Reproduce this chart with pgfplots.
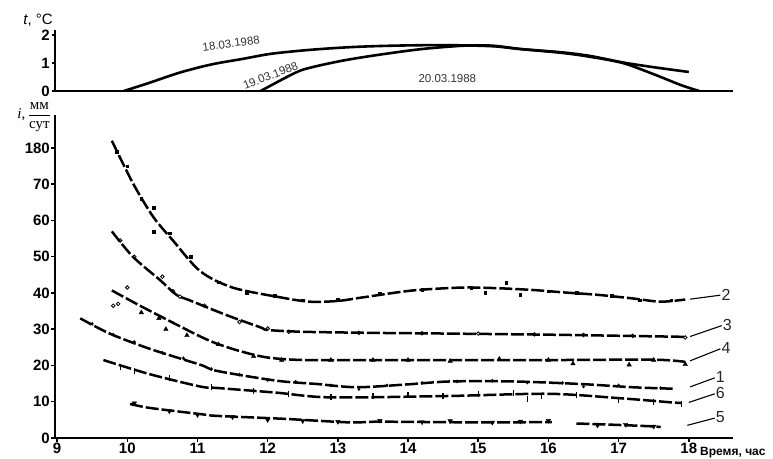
\documentclass[border=0pt]{standalone}
\usepackage{fontspec}
\setmainfont{Liberation Sans}
\newfontfamily\serifcyr{Liberation Serif}
\usepackage{pgfplots}
\pgfplotsset{compat=1.18}

\pgfplotsset{
  base/.style={scale only axis, width=678pt, xmin=8.97, xmax=18.63,
    axis lines=left, axis line style={line width=2.2pt, -},
    tick style={line width=1.5pt, black}, tick align=outside,
    major tick length=3.5pt,
    tick label style={font=\bfseries\fontsize{15}{15}\selectfont, inner sep=1.5pt},
    xticklabel style={yshift=0.5pt},
    /pgf/number format/assume math mode=true},
  crv/.style={black, line width=2.5pt, dash pattern=on 13pt off 3pt,
    smooth, tension=0.5, no marks, unbounded coords=jump},
  lead/.style={black, line width=1.1pt, no marks},
  mk/.style={only marks, black},
}
\tikzset{num/.style={anchor=west, inner sep=1pt, text=black!85, font=\fontsize{16}{16}\selectfont}}

\begin{document}
\begin{tikzpicture}
\path[use as bounding box] (-55pt,-20pt) rectangle (718pt,438pt);

% top panel: air temperature
\begin{axis}[base, name=top, at={(0pt,347pt)}, anchor=south west, height=61pt,
    ymin=0, ymax=2.18, ytick={0,1,2}, xtick=\empty]
\addplot[black, line width=2.6pt, smooth, tension=0.5] coordinates {
  (9.95,0) (10.3,0.28) (10.75,0.66) (11.2,0.95) (11.65,1.15) (12.05,1.33)
  (12.6,1.47) (13.2,1.57) (13.8,1.62) (14.5,1.64) (15.2,1.6) (15.6,1.5)
  (16.2,1.38) (16.6,1.25) (17.06,1.02) (17.5,0.85) (18.0,0.68)
};
\addplot[black, line width=2.6pt, smooth, tension=0.5] coordinates {
  (11.9,0) (12.4,0.66) (12.65,0.86) (13.1,1.1) (13.6,1.3) (14.2,1.5)
  (14.8,1.62) (15.2,1.62) (15.6,1.5) (16.2,1.36) (16.6,1.22) (17.06,1.0)
  (17.5,0.6) (17.9,0.2) (18.15,0)
};
\node[rotate=8, inner sep=0pt, text=black!80,
  font=\fontsize{11.5}{11.5}\selectfont] at (axis cs:11.48,1.7) {18.03.1988};
\node[rotate=21, fill=white, inner sep=0.5pt, text=black!80,
  font=\fontsize{11.5}{11.5}\selectfont] at (axis cs:12.04,0.55) {19.03.1988};
\node[text=black!80, inner sep=0pt,
  font=\fontsize{11.5}{11.5}\selectfont] at (axis cs:14.56,0.46) {20.03.1988};
\end{axis}

% bottom panel: infiltration rate
\begin{axis}[base, name=bot, at={(0pt,0pt)}, anchor=south west, height=323pt,
    ymin=0, ymax=89.1, xtick={9,...,18}, ytick={0,10,...,80},
    yticklabels={0,10,20,30,40,50,60,70,180}]
% curve 2
\addplot[crv] coordinates {
  (9.78,82) (10.08,70.3) (10.37,61) (10.65,54.5) (11.04,46) (11.5,41.5)
  (12.18,38.8) (12.6,37.6) (13.0,37.8) (13.36,38.8) (14.07,40.7)
  (14.78,41.5) (15.3,41.3) (15.8,40.8) (16.26,40.1) (16.7,39.5)
  (17.2,38.5) (17.6,37.6) (17.95,38.2)
};
\addplot[mk, mark=square*, mark size=1.3pt] coordinates {
  (9.85,79) (10.0,75) (10.2,66) (10.38,63.5) (10.38,56.9) (10.6,56.5)
  (10.9,50) (11.3,43) (11.7,40) (12.1,39.2) (12.5,38) (13.0,38.2)
  (13.6,39.8) (14.2,40.9) (14.9,41.5) (15.1,40) (15.4,42.8) (15.6,39.5)
  (16.0,40.5) (16.4,40) (16.9,39.2) (17.3,38) (17.75,38)
};
\addplot[lead] coordinates {(18.02,38.3) (18.45,39.4)};
% curve 3
\addplot[crv] coordinates {
  (9.78,57) (10.08,50) (10.47,43.5) (10.7,39.5) (10.9,37.9) (11.4,34)
  (11.9,30.5) (12.0,29.8) (12.5,29.3) (13.5,29) (14.6,28.8) (16,28.5)
  (17,28.2) (17.95,27.9)
};
\addplot[mk, mark=o, mark size=1.8pt, mark options={fill=white, line width=0.8pt}] coordinates {
  (9.8,36.5) (9.87,37) (9.9,54.5) (10.0,41.5) (10.1,50) (10.5,44.5)
  (10.65,40.5) (10.75,39) (11.1,36.5) (11.6,32) (12.0,30.2) (12.3,29.3)
  (13.3,29) (14.2,28.9) (15.0,28.8) (15.8,28.6) (16.5,28.4) (17.2,28.2)
  (17.95,27.7)
};
\addplot[lead] coordinates {(18.02,28) (18.47,31)};
% curve 4
\addplot[crv] coordinates {
  (9.78,40.7) (10.18,36.5) (10.65,31.8) (11.04,28) (11.28,26) (11.6,24)
  (12.0,22.2) (12.56,21.5) (14,21.5) (16,21.5) (17.5,21.6) (17.95,21.0)
};
\addplot[mk, mark=triangle*, mark size=2.6pt] coordinates {
  (10.2,34.6) (10.45,33) (10.55,30) (10.85,28.3) (11.3,25.8) (11.8,22.5)
  (12.2,21.5) (12.9,21.5) (13.5,21.5) (14.0,21.5) (14.6,21.2) (15.3,21.8)
  (16.0,21.5) (16.35,20.5) (17.15,20.2) (17.5,21.5) (17.95,20.3)
};
\addplot[lead] coordinates {(18.02,21.3) (18.45,24.6)};
% curve 1
\addplot[crv] coordinates {
  (9.33,33) (9.75,28.8) (10.32,24.6) (11.04,20.2) (11.28,18.5)
  (12.13,15.8) (12.7,14.9) (13.27,14.0) (14.0,14.8) (14.6,15.6)
  (15.5,15.6) (16.45,14.9) (17.2,14.0) (17.77,13.6)
};
\addplot[mk, mark=diamond*, mark size=1.6pt] coordinates {
  (9.5,31.5) (9.8,28.5) (10.1,26.5) (10.5,23.5) (10.8,22) (11.2,19)
  (11.6,17.5) (12.0,16) (12.4,15.5) (12.9,14.5) (13.3,13.5) (13.7,14.5)
  (14.2,15.2) (14.7,15.6) (15.2,15.8) (15.7,15.3) (16.2,15.2) (16.5,14.2)
  (17.0,14.5) (17.6,13.8)
};
\addplot[lead] coordinates {(18.02,14.1) (18.37,16.6)};
% curve 6
\addplot[crv] coordinates {
  (9.66,21.5) (10.32,17.6) (11.04,14.2) (11.28,13.8) (12.13,12.5)
  (12.9,11.2) (14.6,11.6) (16.0,12.2) (17.0,11.0) (17.77,9.8) (17.9,9.7)
};
\addplot[mk, mark=|, mark size=3pt, mark options={line width=1.4pt}] coordinates {
  (9.9,19.5) (10.1,18.5) (10.6,16.5) (11.2,14) (11.8,13) (12.3,12)
  (12.9,11.4) (13.5,11.6) (14.0,11.8) (14.5,11.5) (15.0,12.2) (15.5,12.3)
  (15.7,10.7) (15.9,11.5) (16.4,11.8) (17.0,10.6) (17.5,10) (17.9,9.4)
};
\addplot[lead] coordinates {(18.0,9.8) (18.37,12.2)};
% curve 5
\addplot[crv] coordinates {
  (10.04,9.4) (10.32,8.3) (11.04,6.6) (11.28,6.1) (12.22,5.3) (13.17,4.3)
  (13.6,4.5) (15.03,4.3) (16.05,4.4) (16.2,nan) (16.4,4.0) (17.0,3.6)
  (17.49,3.2) (17.6,3.0)
};
\addplot[mk, mark=triangle*, mark size=2.6pt, mark options={rotate=180}] coordinates {
  (10.1,9.6) (10.6,7.4) (11.0,6.4) (11.5,5.8) (12.0,5.0) (12.5,4.7)
  (13.0,4.5) (13.6,4.8) (14.2,4.4) (14.6,4.7) (15.2,4.3) (15.6,4.6)
  (16.0,4.8) (16.7,3.5) (17.1,3.7) (17.5,3.2)
};
\addplot[lead] coordinates {(17.98,3.5) (18.37,5.5)};
% curve numbers
\node[num] at (axis cs:18.45,39.6) {2};
\node[num] at (axis cs:18.47,31.2) {3};
\node[num] at (axis cs:18.45,24.8) {4};
\node[num] at (axis cs:18.37,16.8) {1};
\node[num] at (axis cs:18.37,12.4) {6};
\node[num] at (axis cs:18.37,5.7) {5};
\end{axis}

% axis titles
\node[anchor=south east, inner sep=0pt, font=\fontsize{15}{15}\selectfont]
  at ([xshift=-2pt, yshift=3pt]top.north west) {\textit{t}, °C};
\node[anchor=east, inner sep=0pt, font=\fontsize{15}{15}\selectfont]
  at ([xshift=-4pt, yshift=-2pt]bot.north west)
  {\serifcyr\textit{i},\,$\displaystyle\frac{\mbox{\serifcyr мм}}{\mbox{\serifcyr сут}}$};
\node[anchor=base west, inner sep=0pt, font=\bfseries\fontsize{12}{12}\selectfont]
  at ([xshift=645pt, yshift=-17pt]bot.south west) {Время, час};
\end{tikzpicture}
\end{document}
